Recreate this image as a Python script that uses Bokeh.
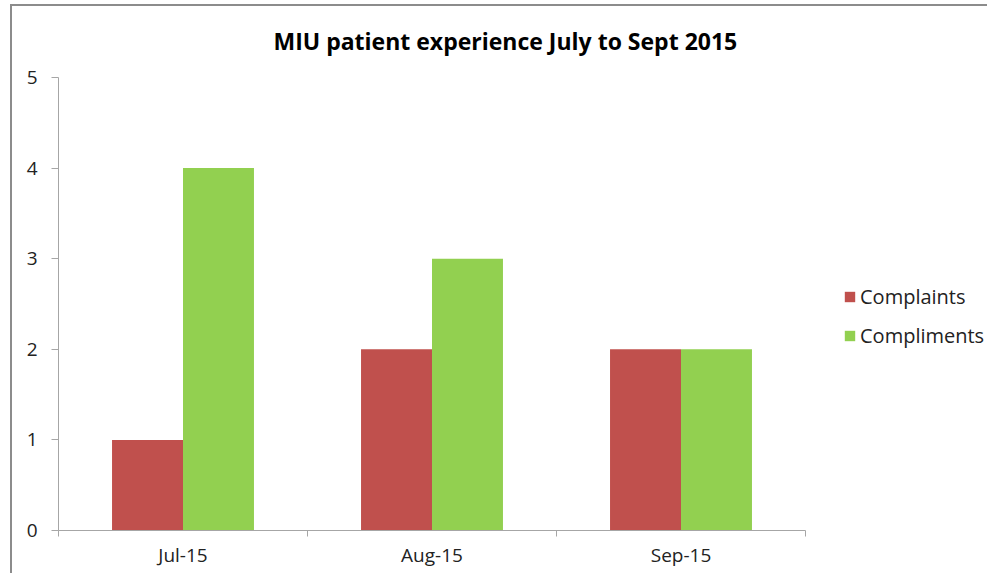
import numpy as np
from bokeh.plotting import figure
from bokeh.models import (ColumnDataSource, FixedTicker, Legend, LegendItem,
                          Range1d, Title)
from bokeh.transform import dodge
from bokeh.embed import file_html
from bokeh.resources import INLINE

months = ["Jul-15", "Aug-15", "Sep-15"]
complaints = [1, 2, 2]
compliments = [4, 3, 2]
series_names = ["Complaints", "Compliments"]
y_ticks = [0, 1, 2, 3, 4, 5]

RED = "#C0504D"
GREEN = "#92D050"
FONT = "Open Sans"

# plot area geometry (pixels) -> extra room on the right of the category axis for the legend
AXIS_PX = 747
FRAME_PX = 927
n = len(months)
x_end = n * FRAME_PX / AXIS_PX

pos = np.arange(n) + 0.5
src = ColumnDataSource(dict(x=pos, complaints=complaints, compliments=compliments))

p = figure(width=987, height=573, output_backend="svg", toolbar_location=None,
           x_range=Range1d(0, x_end), y_range=Range1d(0, 5),
           min_border_left=58, min_border_right=2, min_border_top=77,
           min_border_bottom=43,
           styles={"box-shadow": "inset 10px 4px 0 0 #ffffff, inset 12px 6px 0 0 #8c8c8c"})
p.title = None
t = Title(text="MIU patient experience July to Sept 2015", align="left",
          text_font=FONT, text_font_size="23px", text_font_style="bold",
          text_color="#000000", standoff=41, offset=215)
p.add_layout(t, "above")

bw = 0.285
r1 = p.vbar(x=dodge("x", -bw / 2, range=p.x_range), top="complaints", width=bw,
            source=src, fill_color=RED, line_color=None)
r2 = p.vbar(x=dodge("x", bw / 2, range=p.x_range), top="compliments", width=bw,
            source=src, fill_color=GREEN, line_color=None)

p.grid.visible = False
p.outline_line_color = None
p.background_fill_color = "white"
p.border_fill_alpha = 0

# x axis
xa = p.xaxis[0]
xa.bounds = (0, n)
xa.ticker = FixedTicker(ticks=list(pos), minor_ticks=list(range(n + 1)))
xa.major_label_overrides = {float(v): m for v, m in zip(pos, months)}
xa.major_tick_out = 0
xa.major_tick_in = 0
xa.minor_tick_out = 6
xa.minor_tick_in = 0
xa.minor_tick_line_color = "#A6A6A6"
xa.axis_line_color = "#A6A6A6"
xa.major_label_text_font = FONT
xa.major_label_text_font_size = "19px"
xa.major_label_text_color = "#222222"
xa.major_label_standoff = 5

# y axis
ya = p.yaxis[0]
ya.ticker = FixedTicker(ticks=y_ticks)
ya.major_tick_out = 7
ya.major_tick_in = 0
ya.minor_tick_out = 0
ya.minor_tick_in = 0
ya.major_tick_line_color = "#A6A6A6"
ya.axis_line_color = "#A6A6A6"
ya.major_label_text_font = FONT
ya.major_label_text_font_size = "19px"
ya.major_label_text_color = "#222222"
ya.major_label_standoff = 14

legend = Legend(items=[LegendItem(label=series_names[0], renderers=[r1]),
                       LegendItem(label=series_names[1], renderers=[r2])],
                location=(785, 181), border_line_color=None,
                background_fill_alpha=0, padding=0, margin=0,
                glyph_width=13, glyph_height=13, label_height=20,
                spacing=12, label_standoff=4,
                label_text_font=FONT, label_text_font_size="20px",
                label_text_color="#222222")
p.add_layout(legend, "center")

open("out.html", "w").write(file_html(p, INLINE))
